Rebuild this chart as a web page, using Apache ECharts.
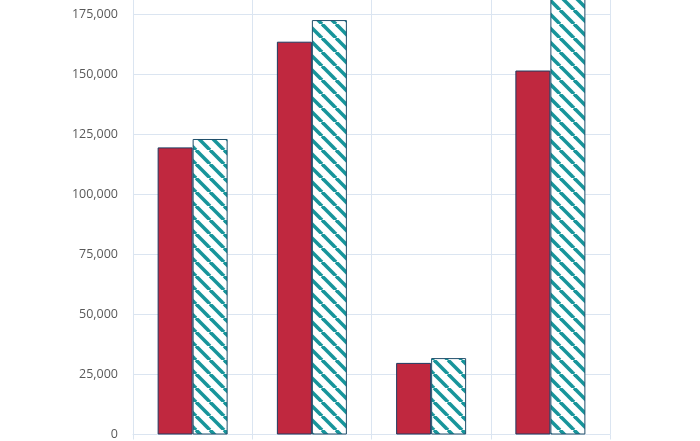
<!DOCTYPE html>
<html>
<head>
<meta charset="utf-8">
<title>bar chart</title>
<script src="https://cdn.jsdelivr.net/npm/echarts@6/dist/echarts.min.js"></script>
<style>
  html, body { margin: 0; padding: 0; background: #fff; overflow: hidden; }
  /* the reference is a crop: the plot runs past the top edge */
  #main { width: 700px; height: 501px; margin-top: -60px; }
</style>
</head>
<body>
<div id="main"></div>
<script>
// data
var categories = ['Q1', 'Q2', 'Q3', 'Q4'];
var solidValues = [119500, 163500, 29800, 151500];
var hatchValues = [123000, 172500, 31800, 190000];

// diagonal stripe tile for the second series
function stripeTile() {
    var size = 14;
    var c = document.createElement('canvas');
    c.width = size;
    c.height = size;
    var ctx = c.getContext('2d');
    ctx.fillStyle = '#ffffff';
    ctx.fillRect(0, 0, size, size);
    ctx.strokeStyle = '#17959b';
    ctx.lineWidth = 3.6;
    [-size, 0, size].forEach(function (o) {
        ctx.beginPath();
        ctx.moveTo(o, 0);
        ctx.lineTo(o + size, size);
        ctx.stroke();
    });
    return c;
}

var gridColor = '#dbe5f1';
var chart = echarts.init(document.getElementById('main'));

var option = {
    animation: false,
    grid: {
        left: 133,
        right: 90,
        top: 14,
        bottom: 4,
        containLabel: false
    },
    xAxis: {
        type: 'category',
        data: categories,
        axisLine: { show: true, lineStyle: { color: gridColor, width: 1 } },
        axisTick: { show: true, length: 5, lineStyle: { color: gridColor } },
        axisLabel: { show: false },
        splitLine: { show: true, lineStyle: { color: gridColor, width: 1 } }
    },
    yAxis: {
        type: 'value',
        min: 0,
        max: 200000,
        interval: 25000,
        axisLine: { show: true, lineStyle: { color: gridColor, width: 1 } },
        axisTick: { show: false },
        splitLine: { show: true, lineStyle: { color: gridColor, width: 1 } },
        axisLabel: {
            margin: 15,
            color: '#595959',
            fontFamily: 'Open Sans',
            fontSize: 12.5,
            formatter: function (v) { return v.toLocaleString('en-US'); }
        }
    },
    series: [{
        type: 'bar',
        data: solidValues,
        barWidth: 35,
        barGap: '0%',
        itemStyle: {
            color: '#c0283f',
            borderColor: '#1f3a60',
            borderWidth: 1
        }
    }, {
        type: 'bar',
        data: hatchValues,
        barWidth: 35,
        itemStyle: {
            color: { image: stripeTile(), repeat: 'repeat' },
            borderColor: '#1f4e6a',
            borderWidth: 1
        }
    }]
};

chart.setOption(option);
</script>
</body>
</html>
